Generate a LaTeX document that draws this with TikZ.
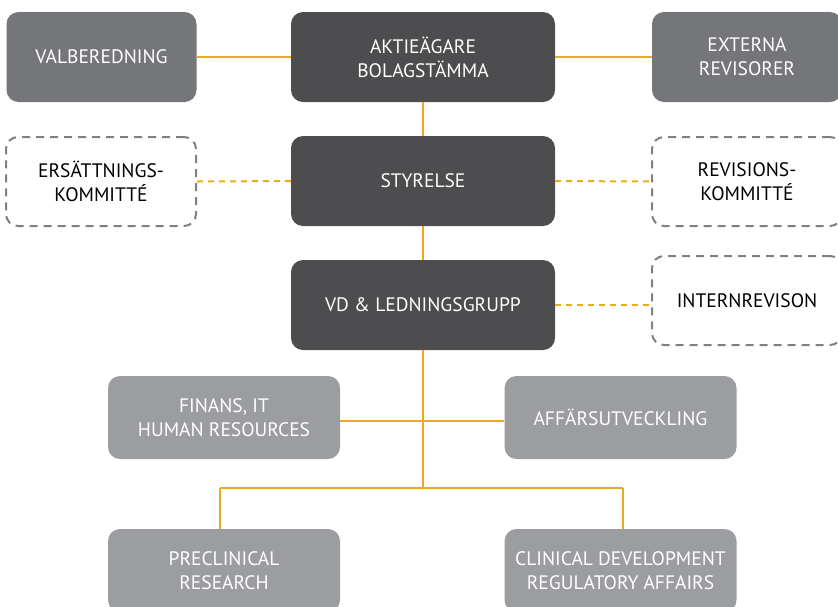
\documentclass[tikz,border=0pt]{standalone}
\usepackage{fontspec}
\setmainfont{PT Sans}
\definecolor{darkg}{HTML}{4D4D4F}
\definecolor{midg}{HTML}{757679}
\definecolor{lightg}{HTML}{9C9DA0}
\definecolor{dashg}{HTML}{808080}
\definecolor{gold}{HTML}{EAAC1C}
\begin{document}
\begin{tikzpicture}[x=1pt,y=1pt,
  box/.style={rounded corners=12pt, inner sep=0pt, align=center, text=white,
    font=\fontsize{19.5}{24}\selectfont},
  darkbox/.style={box, fill=darkg, minimum width=264pt, minimum height=90pt},
  midbox/.style={box, fill=midg, minimum width=190pt, minimum height=90pt},
  lightbox/.style={box, fill=lightg, minimum width=232pt, minimum height=83pt},
  dashbox/.style={box, draw=dashg, line width=2pt, dash pattern=on 8pt off 6pt,
    text=black, minimum width=190pt, minimum height=89pt},
  link/.style={draw=gold, line width=2pt},
  dlink/.style={link, dash pattern=on 6pt off 5pt}]
\useasboundingbox (0,0) rectangle (838,-606);
\fill[white] (0,0) rectangle (838,-606);
% nodes
\node[midbox] (val) at (101.5,-57) {VALBEREDNING};
\node[darkbox] (akt) at (423,-57) {AKTIEÄGARE\\BOLAGSTÄMMA};
\node[midbox] (ext) at (747,-57) {EXTERNA\\REVISORER};
\node[dashbox] (ers) at (101,-181.5) {ERSÄTTNINGS-\\KOMMITTÉ};
\node[darkbox] (sty) at (423,-181) {STYRELSE};
\node[dashbox] (rev) at (747,-181.5) {REVISIONS-\\KOMMITTÉ};
\node[darkbox] (vd) at (423,-305) {VD \& LEDNINGSGRUPP};
\node[dashbox] (int) at (747,-300.5) {INTERNREVISON};
\node[lightbox] (fin) at (224,-417.5) {FINANS, IT\\HUMAN RESOURCES};
\node[lightbox] (aff) at (620.5,-417.5) {AFFÄRSUTVECKLING};
\node[lightbox] (pre) at (224,-570.5) {PRECLINICAL\\RESEARCH};
\node[lightbox] (cli) at (620.5,-570.5) {CLINICAL DEVELOPMENT\\REGULATORY AFFAIRS};
% junctions
\coordinate (hy) at (423,-421);
\coordinate (jn) at (423,-488);
\coordinate (jl) at (220,-488);
\coordinate (jr) at (623,-488);
% connectors
\draw[link] (val.east) -- (akt.west);
\draw[link] (akt.east) -- (ext.west);
\draw[link] (akt.south) -- (sty.north);
\draw[dlink] (ers.east) -- (sty.west);
\draw[dlink] (sty.east) -- (rev.west);
\draw[link] (sty.south) -- (vd.north);
\draw[dlink] (vd.east) -- (vd.east -| int.west);
\draw[link] (vd.south) -- (jn);
\draw[link] (fin.east |- hy) -- (aff.west |- hy);
\draw[link] (jl) -- (jr);
\draw[link] (jl) -- (jl |- pre.north);
\draw[link] (jr) -- (jr |- cli.north);
\end{tikzpicture}
\end{document}
